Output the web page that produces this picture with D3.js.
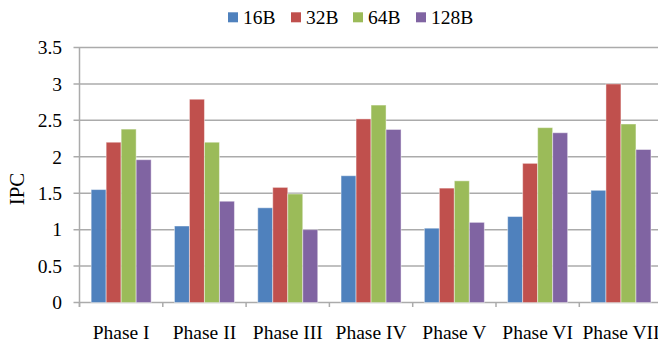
<!DOCTYPE html>
<html>
<head>
<meta charset="utf-8">
<script src="https://cdn.jsdelivr.net/npm/d3@7"></script>
<style>
  html, body { margin: 0; padding: 0; background: #fff; }
  svg text { font-family: "Liberation Serif", "Times New Roman", Times, "DejaVu Serif", serif; }
</style>
</head>
<body>
<svg id="chart" width="658" height="342" style="display:block"></svg>
<script>
// IPC per phase for each block size
const phases = ["Phase I", "Phase II", "Phase III", "Phase IV", "Phase V", "Phase VI", "Phase VII"];
const seriesNames = ["16B", "32B", "64B", "128B"];
const ipc16 = [1.55, 1.05, 1.30, 1.74, 1.02, 1.18, 1.54];
const ipc32 = [2.20, 2.79, 1.58, 2.52, 1.57, 1.91, 3.00];
const ipc64 = [2.38, 2.20, 1.49, 2.71, 1.67, 2.40, 2.45];
const ipc128 = [1.96, 1.39, 1.00, 2.375, 1.10, 2.33, 2.10];
const yTicks = [0, 0.5, 1, 1.5, 2, 2.5, 3, 3.5];
const colors = ["#4F81BD", "#C0504D", "#9BBB59", "#8064A2"];

const seriesValues = [ipc16, ipc32, ipc64, ipc128];
const rows = phases.map((p, i) => ({
  phase: p,
  values: seriesNames.map((s, j) => ({ key: s, value: seriesValues[j][i], idx: j }))
}));

const FONT = '"Liberation Serif", "Times New Roman", Times, serif';
const svg = d3.select("#chart");
const plotLeft = 79.5, plotTop = 47.5, plotBottom = 302.5, bandW = 83.3;

const x0 = d3.scaleBand().domain(phases).range([plotLeft, plotLeft + bandW * phases.length]).padding(0);
const x1 = d3.scaleBand().domain(seriesNames).range([0, x0.bandwidth()]).paddingInner(0).paddingOuter(0.777);
const y = d3.scaleLinear().domain([0, 3.5]).range([plotBottom, plotTop]);

// horizontal gridlines (with short outward tick on the left)
svg.append("g").selectAll("line").data(yTicks).join("line")
  .attr("x1", plotLeft - 6).attr("x2", 658)
  .attr("y1", d => y(d)).attr("y2", d => y(d))
  .attr("stroke", "#ABABAB").attr("stroke-width", 1.5);

// y tick labels
svg.append("g").selectAll("text").data(yTicks).join("text")
  .attr("x", 62).attr("y", d => y(d))
  .attr("dy", "0.35em").attr("text-anchor", "end")
  .attr("font-family", FONT)
  .attr("font-size", "19.5px").attr("fill", "#000")
  .text(d => d);

// bars
svg.append("g").selectAll("g").data(rows).join("g")
  .attr("transform", d => `translate(${x0(d.phase)},0)`)
  .selectAll("rect").data(d => d.values).join("rect")
  .attr("x", d => x1(d.key))
  .attr("width", x1.bandwidth())
  .attr("y", d => y(d.value))
  .attr("height", d => y(0) - y(d.value))
  .attr("fill", d => colors[d.idx])
  .attr("stroke", "rgba(255,255,255,0.45)")
  .attr("stroke-width", 1);

// left axis line
svg.append("line")
  .attr("x1", plotLeft).attr("x2", plotLeft).attr("y1", plotTop).attr("y2", plotBottom + 4.5)
  .attr("stroke", "#ABABAB").attr("stroke-width", 1.5);

// x-axis category boundary ticks
const bounds = d3.range(phases.length + 1).map(i => plotLeft + i * bandW);
svg.append("g").selectAll("line").data(bounds).join("line")
  .attr("x1", d => d).attr("x2", d => d)
  .attr("y1", plotBottom).attr("y2", plotBottom + 4.5)
  .attr("stroke", "#ABABAB").attr("stroke-width", 1.5);

// x labels
svg.append("g").selectAll("text").data(phases).join("text")
  .attr("x", d => x0(d) + x0.bandwidth() / 2)
  .attr("y", 339)
  .attr("text-anchor", "middle")
  .attr("font-family", FONT)
  .attr("font-size", "19.5px").attr("fill", "#000")
  .text(d => d);

// y axis title
svg.append("text")
  .attr("transform", "translate(24,189) rotate(-90)")
  .attr("text-anchor", "middle")
  .attr("font-family", FONT)
  .attr("font-size", "21px").attr("fill", "#000")
  .text("IPC");

// legend
const legendX = [228, 291, 353, 416];
const lg = svg.append("g").selectAll("g").data(seriesNames).join("g")
  .attr("transform", (d, i) => `translate(${legendX[i]},0)`);
lg.append("rect").attr("x", 0).attr("y", 12.3).attr("width", 10).attr("height", 10)
  .attr("fill", (d, i) => colors[i]);
lg.append("text").attr("x", 15).attr("y", 24)
  .attr("font-family", FONT)
  .attr("font-size", "19.5px").attr("fill", "#000")
  .text(d => d);
</script>
</body>
</html>
